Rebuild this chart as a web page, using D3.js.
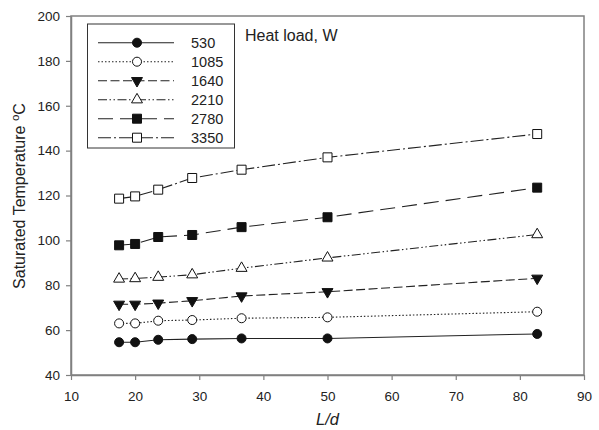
<!DOCTYPE html>
<html><head><meta charset="utf-8">
<script src="https://cdn.jsdelivr.net/npm/d3@7"></script>
<style>body{margin:0;background:#fff}svg{display:block}text{font-family:Arial,"Liberation Sans",sans-serif}</style>
</head><body><svg id="c" width="599" height="430"></svg>
<script>
const ld = [17.5, 20, 23.6, 28.9, 36.6, 50, 82.7];
const heatLoads = ["530", "1085", "1640", "2210", "2780", "3350"];
const t530  = [54.6, 54.6, 55.7, 56.0, 56.3, 56.3, 58.3];
const t1085 = [63.0, 63.0, 64.2, 64.5, 65.3, 65.7, 68.2];
const t1640 = [71.5, 71.5, 72.0, 73.1, 75.2, 77.1, 83.1];
const t2210 = [82.8, 83.0, 83.6, 84.7, 87.6, 92.2, 102.6];
const t2780 = [97.8, 98.4, 101.5, 102.4, 105.9, 110.3, 123.5];
const t3350 = [118.6, 119.6, 122.6, 127.8, 131.5, 137.0, 147.4];
const xTicks = [10, 20, 30, 40, 50, 60, 70, 80, 90];
const yTicks = [40, 60, 80, 100, 120, 140, 160, 180, 200];

const seriesVals = [t530, t1085, t1640, t2210, t2780, t3350];
const styles = [
  {dash: null, sym: d3.symbolCircle, size: 64, fill: "#111", rot: 0},
  {dash: "1.5,2", sym: d3.symbolCircle, size: 64, fill: "#fff", rot: 0},
  {dash: "9,3.5", sym: d3.symbolTriangle, size: 52, fill: "#111", rot: 180},
  {dash: "9,2.5,1.5,2.5,1.5,2.5", sym: d3.symbolTriangle, size: 52, fill: "#fff", rot: 0},
  {dash: "15,7", sym: d3.symbolSquare, size: 81, fill: "#111", rot: 0},
  {dash: "13,3,2,3", sym: d3.symbolSquare, size: 81, fill: "#fff", rot: 0}
];

const svg = d3.select("#c");
const L = 71, R = 584, T = 16, B = 375;
const x = d3.scaleLinear().domain([10, 90]).range([L, R]);
const y = d3.scaleLinear().domain([40, 200]).range([B, T]);
const axisCol = "#808080";

// frame
svg.append("rect").attr("x", L).attr("y", T).attr("width", R - L).attr("height", B - T)
  .attr("fill", "none").attr("stroke", axisCol).attr("stroke-width", 1.5);

const gx = svg.append("g").attr("transform", `translate(0,${B})`)
  .call(d3.axisBottom(x).tickValues(xTicks).tickSize(5).tickSizeOuter(0).tickPadding(21));
const gy = svg.append("g").attr("transform", `translate(${L},0)`)
  .call(d3.axisLeft(y).tickValues(yTicks).tickSize(5).tickSizeOuter(0).tickPadding(6));
[gx, gy].forEach(g => {
  g.select(".domain").attr("stroke", axisCol).attr("stroke-width", 1.5);
  g.selectAll(".tick line").attr("stroke", axisCol).attr("stroke-width", 1.2);
  g.selectAll(".tick text").attr("font-size", 13.5).attr("fill", "#222")
    .attr("font-family", "Arial, 'Liberation Sans', sans-serif");
});
gx.selectAll(".tick text").attr("dy", 0);

// axis titles
svg.append("text").attr("x", (L + R) / 2).attr("y", 425).attr("text-anchor", "middle")
  .attr("font-size", 16.5).attr("font-style", "italic").attr("fill", "#222").text("L/d");
const yt = svg.append("text").attr("transform", `translate(25,196) rotate(-90)`)
  .attr("text-anchor", "middle").attr("font-size", 16).attr("fill", "#222");
yt.append("tspan").text("Saturated Temperature ");
yt.append("tspan").attr("font-size", 11.5).attr("dy", -6.5).text("o");
yt.append("tspan").attr("dy", 6.5).text("C");

// series
const line = d3.line().x(d => x(d[0])).y(d => y(d[1]));
seriesVals.forEach((vals, i) => {
  const st = styles[i];
  const pts = ld.map((v, j) => [v, vals[j]]);
  svg.append("path").datum(pts).attr("d", line).attr("fill", "none")
    .attr("stroke", "#222").attr("stroke-width", 1.1)
    .attr("stroke-dasharray", st.dash);
  svg.append("g").selectAll("path").data(pts).join("path")
    .attr("d", d3.symbol().type(st.sym).size(st.size))
    .attr("transform", d => `translate(${x(d[0])},${y(d[1])}) rotate(${st.rot})`)
    .attr("fill", st.fill).attr("stroke", "#111").attr("stroke-width", 1);
});

// legend
svg.append("rect").attr("x", 87.5).attr("y", 24).attr("width", 147).attr("height", 124)
  .attr("fill", "#fff").attr("stroke", "#333").attr("stroke-width", 1);
heatLoads.forEach((lab, i) => {
  const st = styles[i];
  const cy = 42.7 + i * 19;
  svg.append("line").attr("x1", 98).attr("x2", 174).attr("y1", cy).attr("y2", cy)
    .attr("stroke", "#222").attr("stroke-width", 1.1).attr("stroke-dasharray", st.dash);
  svg.append("path").attr("d", d3.symbol().type(st.sym).size(st.size))
    .attr("transform", `translate(137,${cy}) rotate(${st.rot})`)
    .attr("fill", st.fill).attr("stroke", "#111").attr("stroke-width", 1);
  svg.append("text").attr("x", 191).attr("y", cy + 5.2).attr("font-size", 14.5)
    .attr("fill", "#222").text(lab);
});
svg.append("text").attr("x", 245).attr("y", 41).attr("font-size", 16)
  .attr("fill", "#222").text("Heat load, W");
</script></body></html>
